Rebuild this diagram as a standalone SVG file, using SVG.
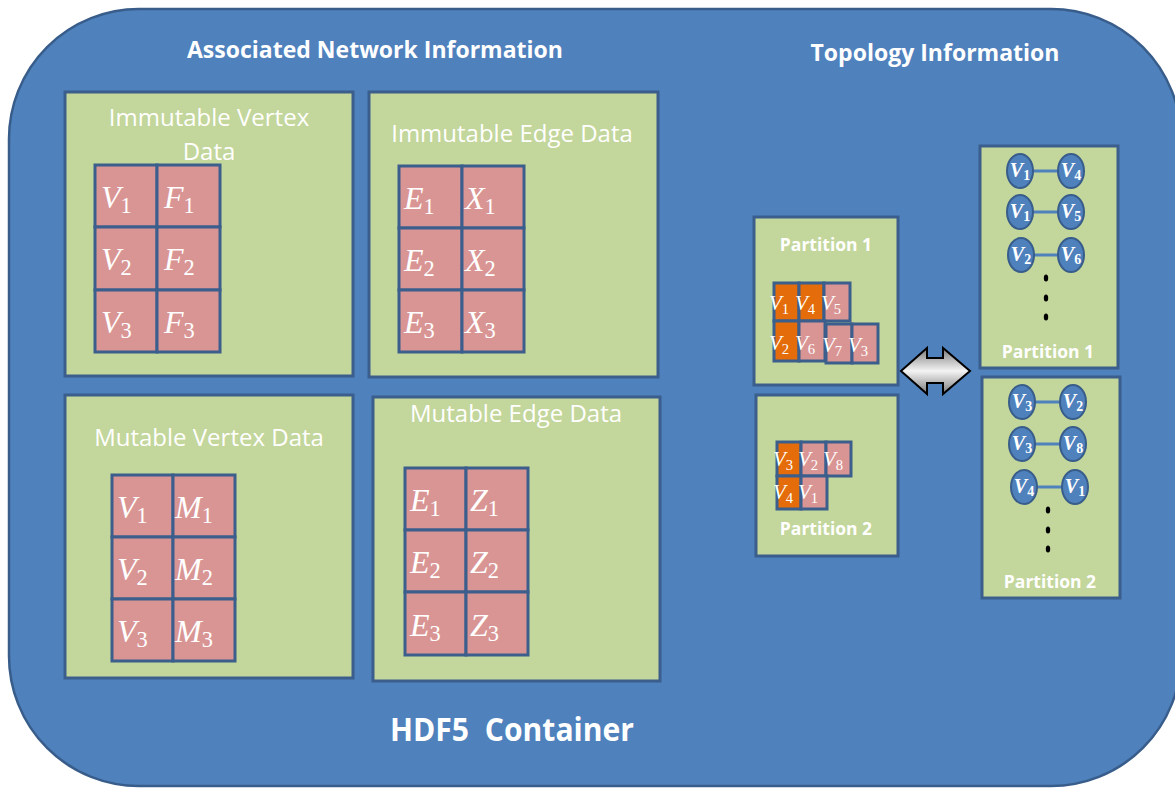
<svg xmlns="http://www.w3.org/2000/svg" width="1175" height="789" viewBox="0 0 1175 789">
<defs>
<linearGradient id="silver" x1="0" y1="0" x2="0" y2="1">
<stop offset="0" stop-color="#7a7a7a"/>
<stop offset="0.5" stop-color="#f4f4f4"/>
<stop offset="1" stop-color="#7a7a7a"/>
</linearGradient>
<style>
.container{fill:#4F81BD;stroke:#385D8A;stroke-width:2.5}
.box{fill:#C3D69B;stroke:#3B5E8C;stroke-width:3}
.cell{fill:#D99594;stroke:#3B5E8C;stroke-width:3}
.ocell{fill:#E46C0A;stroke:#3B5E8C;stroke-width:3}
.head{font-family:"Open Sans",Lato,sans-serif;font-weight:bold;fill:#fff;text-anchor:middle}
.title{font-family:"Open Sans","Liberation Sans",sans-serif;font-size:24px;fill:#fff;text-anchor:middle}
.ptitle{font-family:"Open Sans","Liberation Sans",sans-serif;font-weight:bold;font-size:17.5px;fill:#fff;text-anchor:middle}
.m{font-family:"Liberation Serif","DejaVu Serif",serif;font-style:italic;font-size:32px;fill:#fff}
.ms{font-family:"Liberation Serif","DejaVu Serif",serif;font-style:italic;font-size:21px;fill:#fff}
.sub{font-style:normal;font-size:0.7em}
.node{fill:#4F81BD;stroke:#385D8A;stroke-width:2}
.nt{font-family:"Liberation Serif","DejaVu Serif",serif;font-style:italic;font-weight:bold;font-size:20px;fill:#fff;text-anchor:middle}
.edge{stroke:#4F81BD;stroke-width:3}
.dot{fill:#000}
</style>
</defs>

<g id="container">
<rect class="container" x="9" y="9" width="1172" height="777" rx="130" ry="130"/>
<text class="head" x="375" y="58" font-size="23" textLength="376" lengthAdjust="spacingAndGlyphs">Associated Network Information</text>
<text class="head" x="935" y="61" font-size="23" textLength="249" lengthAdjust="spacingAndGlyphs">Topology Information</text>
<text class="head" x="512" y="741" font-size="32" textLength="244" lengthAdjust="spacingAndGlyphs" xml:space="preserve">HDF5  Container</text>
</g>

<g id="immutable-vertex">
<rect class="box" x="65" y="92" width="288" height="284"/>
<text class="title" x="209" y="126">Immutable Vertex</text>
<text class="title" x="209" y="160">Data</text>
<rect class="cell" x="95" y="165" width="62" height="62"/>
<rect class="cell" x="157" y="165" width="63" height="62"/>
<rect class="cell" x="95" y="227" width="62" height="63"/>
<rect class="cell" x="157" y="227" width="63" height="63"/>
<rect class="cell" x="95" y="290" width="62" height="62"/>
<rect class="cell" x="157" y="290" width="63" height="62"/>
<text class="m" x="101" y="208">V<tspan class="sub" dy="5">1</tspan></text>
<text class="m" x="164" y="208">F<tspan class="sub" dy="5">1</tspan></text>
<text class="m" x="101" y="270">V<tspan class="sub" dy="5">2</tspan></text>
<text class="m" x="164" y="270">F<tspan class="sub" dy="5">2</tspan></text>
<text class="m" x="101" y="333">V<tspan class="sub" dy="5">3</tspan></text>
<text class="m" x="164" y="333">F<tspan class="sub" dy="5">3</tspan></text>
</g>

<g id="immutable-edge">
<rect class="box" x="369" y="92" width="289" height="285"/>
<text class="title" x="512" y="142">Immutable Edge Data</text>
<rect class="cell" x="399" y="166" width="63" height="62"/>
<rect class="cell" x="462" y="166" width="62" height="62"/>
<rect class="cell" x="399" y="228" width="63" height="62"/>
<rect class="cell" x="462" y="228" width="62" height="62"/>
<rect class="cell" x="399" y="290" width="63" height="62"/>
<rect class="cell" x="462" y="290" width="62" height="62"/>
<text class="m" x="404" y="209">E<tspan class="sub" dy="5">1</tspan></text>
<text class="m" x="465" y="209">X<tspan class="sub" dy="5">1</tspan></text>
<text class="m" x="404" y="271">E<tspan class="sub" dy="5">2</tspan></text>
<text class="m" x="465" y="271">X<tspan class="sub" dy="5">2</tspan></text>
<text class="m" x="404" y="333">E<tspan class="sub" dy="5">3</tspan></text>
<text class="m" x="465" y="333">X<tspan class="sub" dy="5">3</tspan></text>
</g>

<g id="mutable-vertex">
<rect class="box" x="65" y="395" width="288" height="283"/>
<text class="title" x="209" y="446">Mutable Vertex Data</text>
<rect class="cell" x="112" y="475" width="61" height="62"/>
<rect class="cell" x="173" y="475" width="62" height="62"/>
<rect class="cell" x="112" y="537" width="61" height="62"/>
<rect class="cell" x="173" y="537" width="62" height="62"/>
<rect class="cell" x="112" y="599" width="61" height="62"/>
<rect class="cell" x="173" y="599" width="62" height="62"/>
<text class="m" x="117" y="518">V<tspan class="sub" dy="5">1</tspan></text>
<text class="m" x="175" y="518">M<tspan class="sub" dy="5">1</tspan></text>
<text class="m" x="117" y="580">V<tspan class="sub" dy="5">2</tspan></text>
<text class="m" x="175" y="580">M<tspan class="sub" dy="5">2</tspan></text>
<text class="m" x="117" y="642">V<tspan class="sub" dy="5">3</tspan></text>
<text class="m" x="175" y="642">M<tspan class="sub" dy="5">3</tspan></text>
</g>

<g id="mutable-edge">
<rect class="box" x="373" y="397" width="287" height="284"/>
<text class="title" x="516" y="422">Mutable Edge Data</text>
<rect class="cell" x="405" y="468" width="61" height="62"/>
<rect class="cell" x="466" y="468" width="62" height="62"/>
<rect class="cell" x="405" y="530" width="61" height="62"/>
<rect class="cell" x="466" y="530" width="62" height="62"/>
<rect class="cell" x="405" y="592" width="61" height="63"/>
<rect class="cell" x="466" y="592" width="62" height="63"/>
<text class="m" x="410" y="511">E<tspan class="sub" dy="5">1</tspan></text>
<text class="m" x="470" y="511">Z<tspan class="sub" dy="5">1</tspan></text>
<text class="m" x="410" y="573">E<tspan class="sub" dy="5">2</tspan></text>
<text class="m" x="470" y="573">Z<tspan class="sub" dy="5">2</tspan></text>
<text class="m" x="410" y="636">E<tspan class="sub" dy="5">3</tspan></text>
<text class="m" x="470" y="636">Z<tspan class="sub" dy="5">3</tspan></text>
</g>

<g id="partition1-data">
<rect class="box" x="754" y="217" width="144" height="168"/>
<text class="ptitle" x="826" y="251">Partition 1</text>
<rect class="ocell" x="774" y="283" width="25" height="38"/>
<rect class="ocell" x="799" y="283" width="25" height="38"/>
<rect class="cell" x="824" y="283" width="26" height="38"/>
<rect class="ocell" x="774" y="321" width="25" height="40"/>
<rect class="cell" x="799" y="321" width="26" height="40"/>
<rect class="cell" x="826" y="324" width="26" height="39"/>
<rect class="cell" x="852" y="324" width="26" height="39"/>
<text class="ms" x="769" y="310">V<tspan class="sub" dy="4">1</tspan></text>
<text class="ms" x="795" y="310">V<tspan class="sub" dy="4">4</tspan></text>
<text class="ms" x="821" y="310">V<tspan class="sub" dy="4">5</tspan></text>
<text class="ms" x="769" y="350">V<tspan class="sub" dy="4">2</tspan></text>
<text class="ms" x="795" y="350">V<tspan class="sub" dy="4">6</tspan></text>
<text class="ms" x="822" y="352">V<tspan class="sub" dy="4">7</tspan></text>
<text class="ms" x="848" y="352">V<tspan class="sub" dy="4">3</tspan></text>
</g>

<g id="partition2-data">
<rect class="box" x="756" y="395" width="142" height="161"/>
<text class="ptitle" x="826" y="535">Partition 2</text>
<rect class="ocell" x="777" y="442" width="24" height="34"/>
<rect class="cell" x="801" y="442" width="25" height="34"/>
<rect class="cell" x="826" y="442" width="25" height="34"/>
<rect class="ocell" x="777" y="476" width="24" height="33"/>
<rect class="cell" x="801" y="476" width="26" height="33"/>
<text class="ms" x="773" y="466">V<tspan class="sub" dy="4">3</tspan></text>
<text class="ms" x="798" y="466">V<tspan class="sub" dy="4">2</tspan></text>
<text class="ms" x="823" y="466">V<tspan class="sub" dy="4">8</tspan></text>
<text class="ms" x="773" y="499">V<tspan class="sub" dy="4">4</tspan></text>
<text class="ms" x="798" y="499">V<tspan class="sub" dy="4">1</tspan></text>
</g>

<g id="topology-partition1">
<rect class="box" x="980" y="146" width="138" height="222"/>
<text class="ptitle" x="1048" y="358">Partition 1</text>
</g>

<g id="topology-partition2">
<rect class="box" x="982" y="377" width="138" height="221"/>
<text class="ptitle" x="1050" y="588">Partition 2</text>
</g>

<g id="connectors">
<line class="edge" x1="1033" y1="171" x2="1058" y2="171"/>
<line class="edge" x1="1033" y1="212" x2="1058" y2="212"/>
<line class="edge" x1="1034" y1="255" x2="1058" y2="255"/>
<line class="edge" x1="1035" y1="402" x2="1060" y2="402"/>
<line class="edge" x1="1035" y1="444" x2="1060" y2="444"/>
<line class="edge" x1="1037" y1="487" x2="1062" y2="487"/>
<path d="M901 371 L927 348 L927 358 L943 358 L943 348 L970 371 L943 394 L943 383 L927 383 L927 394 Z" fill="url(#silver)" stroke="#000" stroke-width="2" stroke-linejoin="miter"/>
</g>

<g id="n-p1-v1a"><ellipse class="node" cx="1020" cy="171" rx="13" ry="17"/><text class="nt" x="1020" y="177">V<tspan class="sub" dy="3">1</tspan></text></g>
<g id="n-p1-v4"><ellipse class="node" cx="1071" cy="171" rx="13" ry="17"/><text class="nt" x="1071" y="177">V<tspan class="sub" dy="3">4</tspan></text></g>
<g id="n-p1-v1b"><ellipse class="node" cx="1020" cy="212" rx="13" ry="17"/><text class="nt" x="1020" y="218">V<tspan class="sub" dy="3">1</tspan></text></g>
<g id="n-p1-v5"><ellipse class="node" cx="1071" cy="212" rx="13" ry="17"/><text class="nt" x="1071" y="218">V<tspan class="sub" dy="3">5</tspan></text></g>
<g id="n-p1-v2"><ellipse class="node" cx="1021" cy="255" rx="13" ry="17"/><text class="nt" x="1021" y="261">V<tspan class="sub" dy="3">2</tspan></text></g>
<g id="n-p1-v6"><ellipse class="node" cx="1071" cy="255" rx="13" ry="17"/><text class="nt" x="1071" y="261">V<tspan class="sub" dy="3">6</tspan></text></g>
<g id="p1-dots"><ellipse class="dot" cx="1046" cy="278" rx="2.2" ry="3.5"/><ellipse class="dot" cx="1046" cy="298" rx="2.2" ry="3.5"/><ellipse class="dot" cx="1046" cy="317" rx="2.2" ry="3.5"/></g>

<g id="n-p2-v3a"><ellipse class="node" cx="1022" cy="402" rx="13" ry="17"/><text class="nt" x="1022" y="408">V<tspan class="sub" dy="3">3</tspan></text></g>
<g id="n-p2-v2"><ellipse class="node" cx="1073" cy="402" rx="13" ry="17"/><text class="nt" x="1073" y="408">V<tspan class="sub" dy="3">2</tspan></text></g>
<g id="n-p2-v3b"><ellipse class="node" cx="1022" cy="444" rx="13" ry="17"/><text class="nt" x="1022" y="450">V<tspan class="sub" dy="3">3</tspan></text></g>
<g id="n-p2-v8"><ellipse class="node" cx="1073" cy="444" rx="13" ry="17"/><text class="nt" x="1073" y="450">V<tspan class="sub" dy="3">8</tspan></text></g>
<g id="n-p2-v4"><ellipse class="node" cx="1024" cy="487" rx="13" ry="17"/><text class="nt" x="1024" y="493">V<tspan class="sub" dy="3">4</tspan></text></g>
<g id="n-p2-v1"><ellipse class="node" cx="1075" cy="487" rx="13" ry="17"/><text class="nt" x="1075" y="493">V<tspan class="sub" dy="3">1</tspan></text></g>
<g id="p2-dots"><ellipse class="dot" cx="1048" cy="510" rx="2.2" ry="3.5"/><ellipse class="dot" cx="1048" cy="530" rx="2.2" ry="3.5"/><ellipse class="dot" cx="1048" cy="549" rx="2.2" ry="3.5"/></g>
</svg>
